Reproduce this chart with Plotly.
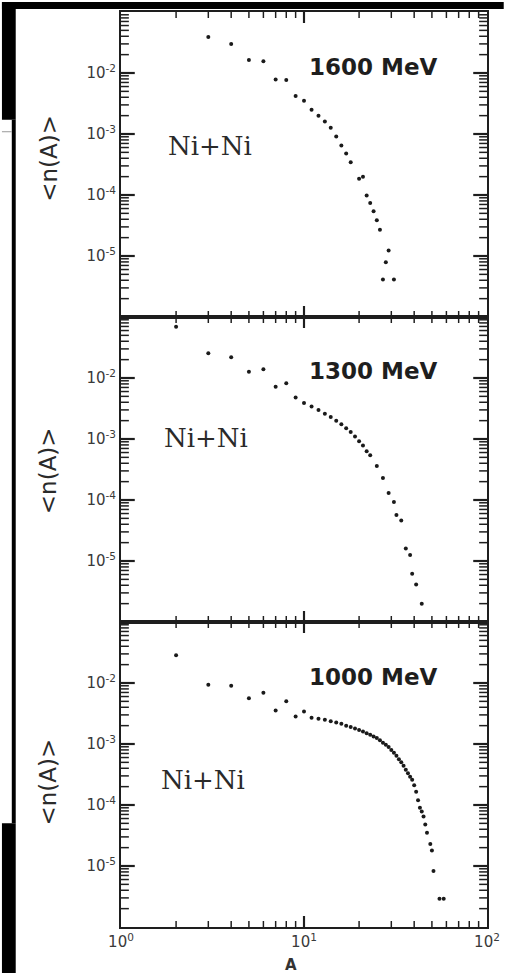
import math
import plotly.graph_objects as go
from plotly.subplots import make_subplots

# ---------------- data ----------------
A_1600 = [3, 4, 5, 6, 7, 8, 9, 10, 11, 12, 13, 14, 15, 16, 17, 18, 20, 21, 22, 23, 24, 25, 26, 29, 28, 27, 31]
n_1600 = [3.9e-2, 3.0e-2, 1.63e-2, 1.56e-2, 7.8e-3, 7.7e-3, 4.2e-3, 3.5e-3, 2.5e-3, 2.0e-3, 1.6e-3,
          1.27e-3, 9.1e-4, 6.5e-4, 4.8e-4, 3.45e-4, 1.85e-4, 2.0e-4, 9.8e-5, 7.4e-5, 5.4e-5, 3.85e-5,
          2.7e-5, 1.23e-5, 7.9e-6, 4.1e-6, 4.1e-6]

A_1300 = [2, 3, 4, 5, 6, 7, 8, 9, 10, 11, 12, 13, 14, 15, 16, 17, 18, 19, 20, 21, 22, 23, 25, 27, 29,
          31, 32, 34, 36, 38, 39, 41, 44]
n_1300 = [6.9e-2, 2.54e-2, 2.18e-2, 1.27e-2, 1.39e-2, 7.2e-3, 8.2e-3, 4.8e-3, 3.9e-3, 3.4e-3, 3.0e-3,
          2.6e-3, 2.3e-3, 2.0e-3, 1.75e-3, 1.5e-3, 1.3e-3, 1.1e-3, 9.2e-4, 7.8e-4, 6.3e-4, 5.4e-4,
          3.6e-4, 2.3e-4, 1.3e-4, 9.3e-5, 5.7e-5, 4.6e-5, 1.6e-5, 1.26e-5, 6.2e-6, 4.1e-6, 2.0e-6]

A_1000 = [2, 3, 4, 5, 6, 7, 8, 9, 10, 11, 12, 13, 14, 15, 16, 17, 18, 19, 20, 21, 22, 23, 24, 25, 26,
          27, 28, 29, 30, 31, 32, 33, 34, 35, 36, 37, 38, 39, 40, 41, 42, 43, 44, 45, 46, 47, 49, 50,
          51, 55, 58]
n_1000 = [2.85e-2, 9.4e-3, 9.0e-3, 5.6e-3, 6.9e-3, 3.55e-3, 5.0e-3, 2.83e-3, 3.4e-3, 2.7e-3, 2.6e-3,
          2.5e-3, 2.35e-3, 2.25e-3, 2.15e-3, 2.0e-3, 1.9e-3, 1.8e-3, 1.7e-3, 1.6e-3, 1.5e-3, 1.42e-3,
          1.33e-3, 1.25e-3, 1.15e-3, 1.05e-3, 9.7e-4, 8.9e-4, 8.0e-4, 7.2e-4, 6.4e-4, 5.6e-4, 5.0e-4,
          4.4e-4, 3.8e-4, 3.3e-4, 2.9e-4, 2.6e-4, 2.1e-4, 1.65e-4, 1.2e-4, 9.0e-5, 7.8e-5, 6.5e-5,
          4.8e-5, 3.5e-5, 2.3e-5, 1.8e-5, 8.3e-6, 2.9e-6, 2.9e-6]

panel_labels = ["1600 MeV", "1300 MeV", "1000 MeV"]
system_label = "Ni+Ni"
y_title = "&lt;n(A)&gt;"
x_title = "A"

x_major = [1, 10, 100]
x_major_text = ["10<sup>0</sup>", "10<sup>1</sup>", "10<sup>2</sup>"]
y_major = [1e-6, 1e-5, 1e-4, 1e-3, 1e-2, 1e-1]
y_major_text = ["", "10<sup>-5</sup>", "10<sup>-4</sup>", "10<sup>-3</sup>", "10<sup>-2</sup>", ""]

x_minor = [k * 10 ** e for e in range(0, 2) for k in range(2, 10)]
y_minor = [k * 10.0 ** e for e in range(-6, -1) for k in range(2, 10)]

X_RANGE = [0, 2]      # log10 range of A
Y_RANGE = [-6, -1]    # log10 range of <n(A)>

# ---------------- layout geometry (pixels) ----------------
W, H = 510, 973
L, R, T, B = 121, 493, 10, 927
PW = R - L
PH_ALL = B - T


def px(x):
    return (x - L) / (R - L)


def py(y):
    return (B - y) / (B - T)


fig = make_subplots(rows=3, cols=1, shared_xaxes=True, vertical_spacing=0)

series = [(A_1600, n_1600), (A_1300, n_1300), (A_1000, n_1000)]
for i, (a, n) in enumerate(series):
    fig.add_trace(go.Scatter(x=a, y=n, mode="markers",
                             marker=dict(size=4, color="#1a1a1a", symbol="circle"),
                             showlegend=False), row=i + 1, col=1)

axcol = "#1e1e1e"
tfont = dict(family="DejaVu Sans", size=15, color="#3a3a3a")
for i in range(3):
    fig.update_yaxes(type="log", range=Y_RANGE, tickmode="array", tickvals=y_major, ticktext=y_major_text,
                     ticks="", showline=True, linewidth=2, linecolor=axcol, mirror=True,
                     showgrid=False, zeroline=False, tickfont=tfont,
                     row=i + 1, col=1)
    fig.update_xaxes(type="log", range=X_RANGE, tickmode="array", tickvals=x_major, ticktext=x_major_text,
                     ticks="", showline=True, linewidth=2, linecolor=axcol, mirror=True,
                     showgrid=False, zeroline=False, tickfont=tfont,
                     row=i + 1, col=1)

# ---- tick marks as small filled rectangles (paper coordinates, from the tick value lists) ----
shapes = []
dx1 = 1.0 / PW       # one pixel in paper-x
dy1 = 1.0 / PH_ALL   # one pixel in paper-y


def tick_rect(x0, x1, y0, y1):
    return dict(type="rect", xref="paper", yref="paper", x0=x0, x1=x1, y0=y0, y1=y1,
                fillcolor=axcol, line_width=0, layer="above")


for i in range(3):
    dom = fig.layout["yaxis" if i == 0 else "yaxis%d" % (i + 1)].domain
    y_bot, y_top = dom[0], dom[1]

    def yp(v):
        return y_bot + (math.log10(v) - Y_RANGE[0]) / (Y_RANGE[1] - Y_RANGE[0]) * (y_top - y_bot)

    def xp(v):
        return (math.log10(v) - X_RANGE[0]) / (X_RANGE[1] - X_RANGE[0])

    for vals, ln, wd in ((y_minor, 8, 1.5), (y_major[1:-1], 14, 2.2)):
        for v in vals:
            yc = yp(v)
            shapes.append(tick_rect(0, ln * dx1, yc - wd / 2 * dy1, yc + wd / 2 * dy1))
            shapes.append(tick_rect(1 - ln * dx1, 1, yc - wd / 2 * dy1, yc + wd / 2 * dy1))
    for vals, ln, wd in ((x_minor, 6, 1.5), (x_major[1:-1], 11, 2.2)):
        for v in vals:
            xc = xp(v)
            shapes.append(tick_rect(xc - wd / 2 * dx1, xc + wd / 2 * dx1, y_bot, y_bot + ln * dy1))
            shapes.append(tick_rect(xc - wd / 2 * dx1, xc + wd / 2 * dx1, y_top - ln * dy1, y_top))

annotations = []
label_y = [65, 370, 676]
ni_pos = [(211, 144), (207, 437), (204, 780)]
ytitle_y = [157, 470, 782]
for i in range(3):
    annotations.append(dict(text="<b>" + panel_labels[i] + "</b>", x=px(378), y=py(label_y[i]),
                            xref="paper", yref="paper",
                            showarrow=False, xanchor="center", yanchor="middle",
                            font=dict(family="DejaVu Sans", size=23, color="#1e1e1e")))
    annotations.append(dict(text=system_label, x=px(ni_pos[i][0]), y=py(ni_pos[i][1]), xref="paper",
                            yref="paper", showarrow=False, xanchor="center", yanchor="middle",
                            font=dict(family="DejaVu Serif", size=26, color="#2a2a2a")))
    annotations.append(dict(text=y_title, x=px(47), y=py(ytitle_y[i]), xref="paper", yref="paper",
                            showarrow=False, xanchor="center", yanchor="middle", textangle=-90,
                            font=dict(family="DejaVu Sans", size=23, color="#2a2a2a")))
annotations.append(dict(text="<b>" + x_title + "</b>", x=px(294), y=py(965), xref="paper", yref="paper",
                        showarrow=False, xanchor="center", yanchor="middle",
                        font=dict(family="DejaVu Sans", size=15, color="#333")))

shapes += [
    # black scan borders
    dict(type="rect", xref="paper", yref="paper", x0=px(0), x1=px(W), y0=py(7), y1=py(0),
         fillcolor="black", line_width=0, layer="above"),
    dict(type="rect", xref="paper", yref="paper", x0=px(0), x1=px(14), y0=py(118), y1=py(0),
         fillcolor="black", line_width=0, layer="above"),
    dict(type="rect", xref="paper", yref="paper", x0=px(10), x1=px(14), y0=py(823), y1=py(118),
         fillcolor="black", line_width=0, layer="above"),
    dict(type="rect", xref="paper", yref="paper", x0=px(0), x1=px(14), y0=py(H), y1=py(823),
         fillcolor="black", line_width=0, layer="above"),
    dict(type="line", xref="paper", yref="paper", x0=px(0), x1=px(10), y0=py(130), y1=py(130),
         line=dict(color="#999", width=1), layer="above"),
]

fig.update_layout(width=W, height=H, margin=dict(l=L, r=W - R, t=T, b=H - B),
                  paper_bgcolor="white", plot_bgcolor="white",
                  annotations=annotations, shapes=shapes, showlegend=False)

fig.write_html("out.html")
